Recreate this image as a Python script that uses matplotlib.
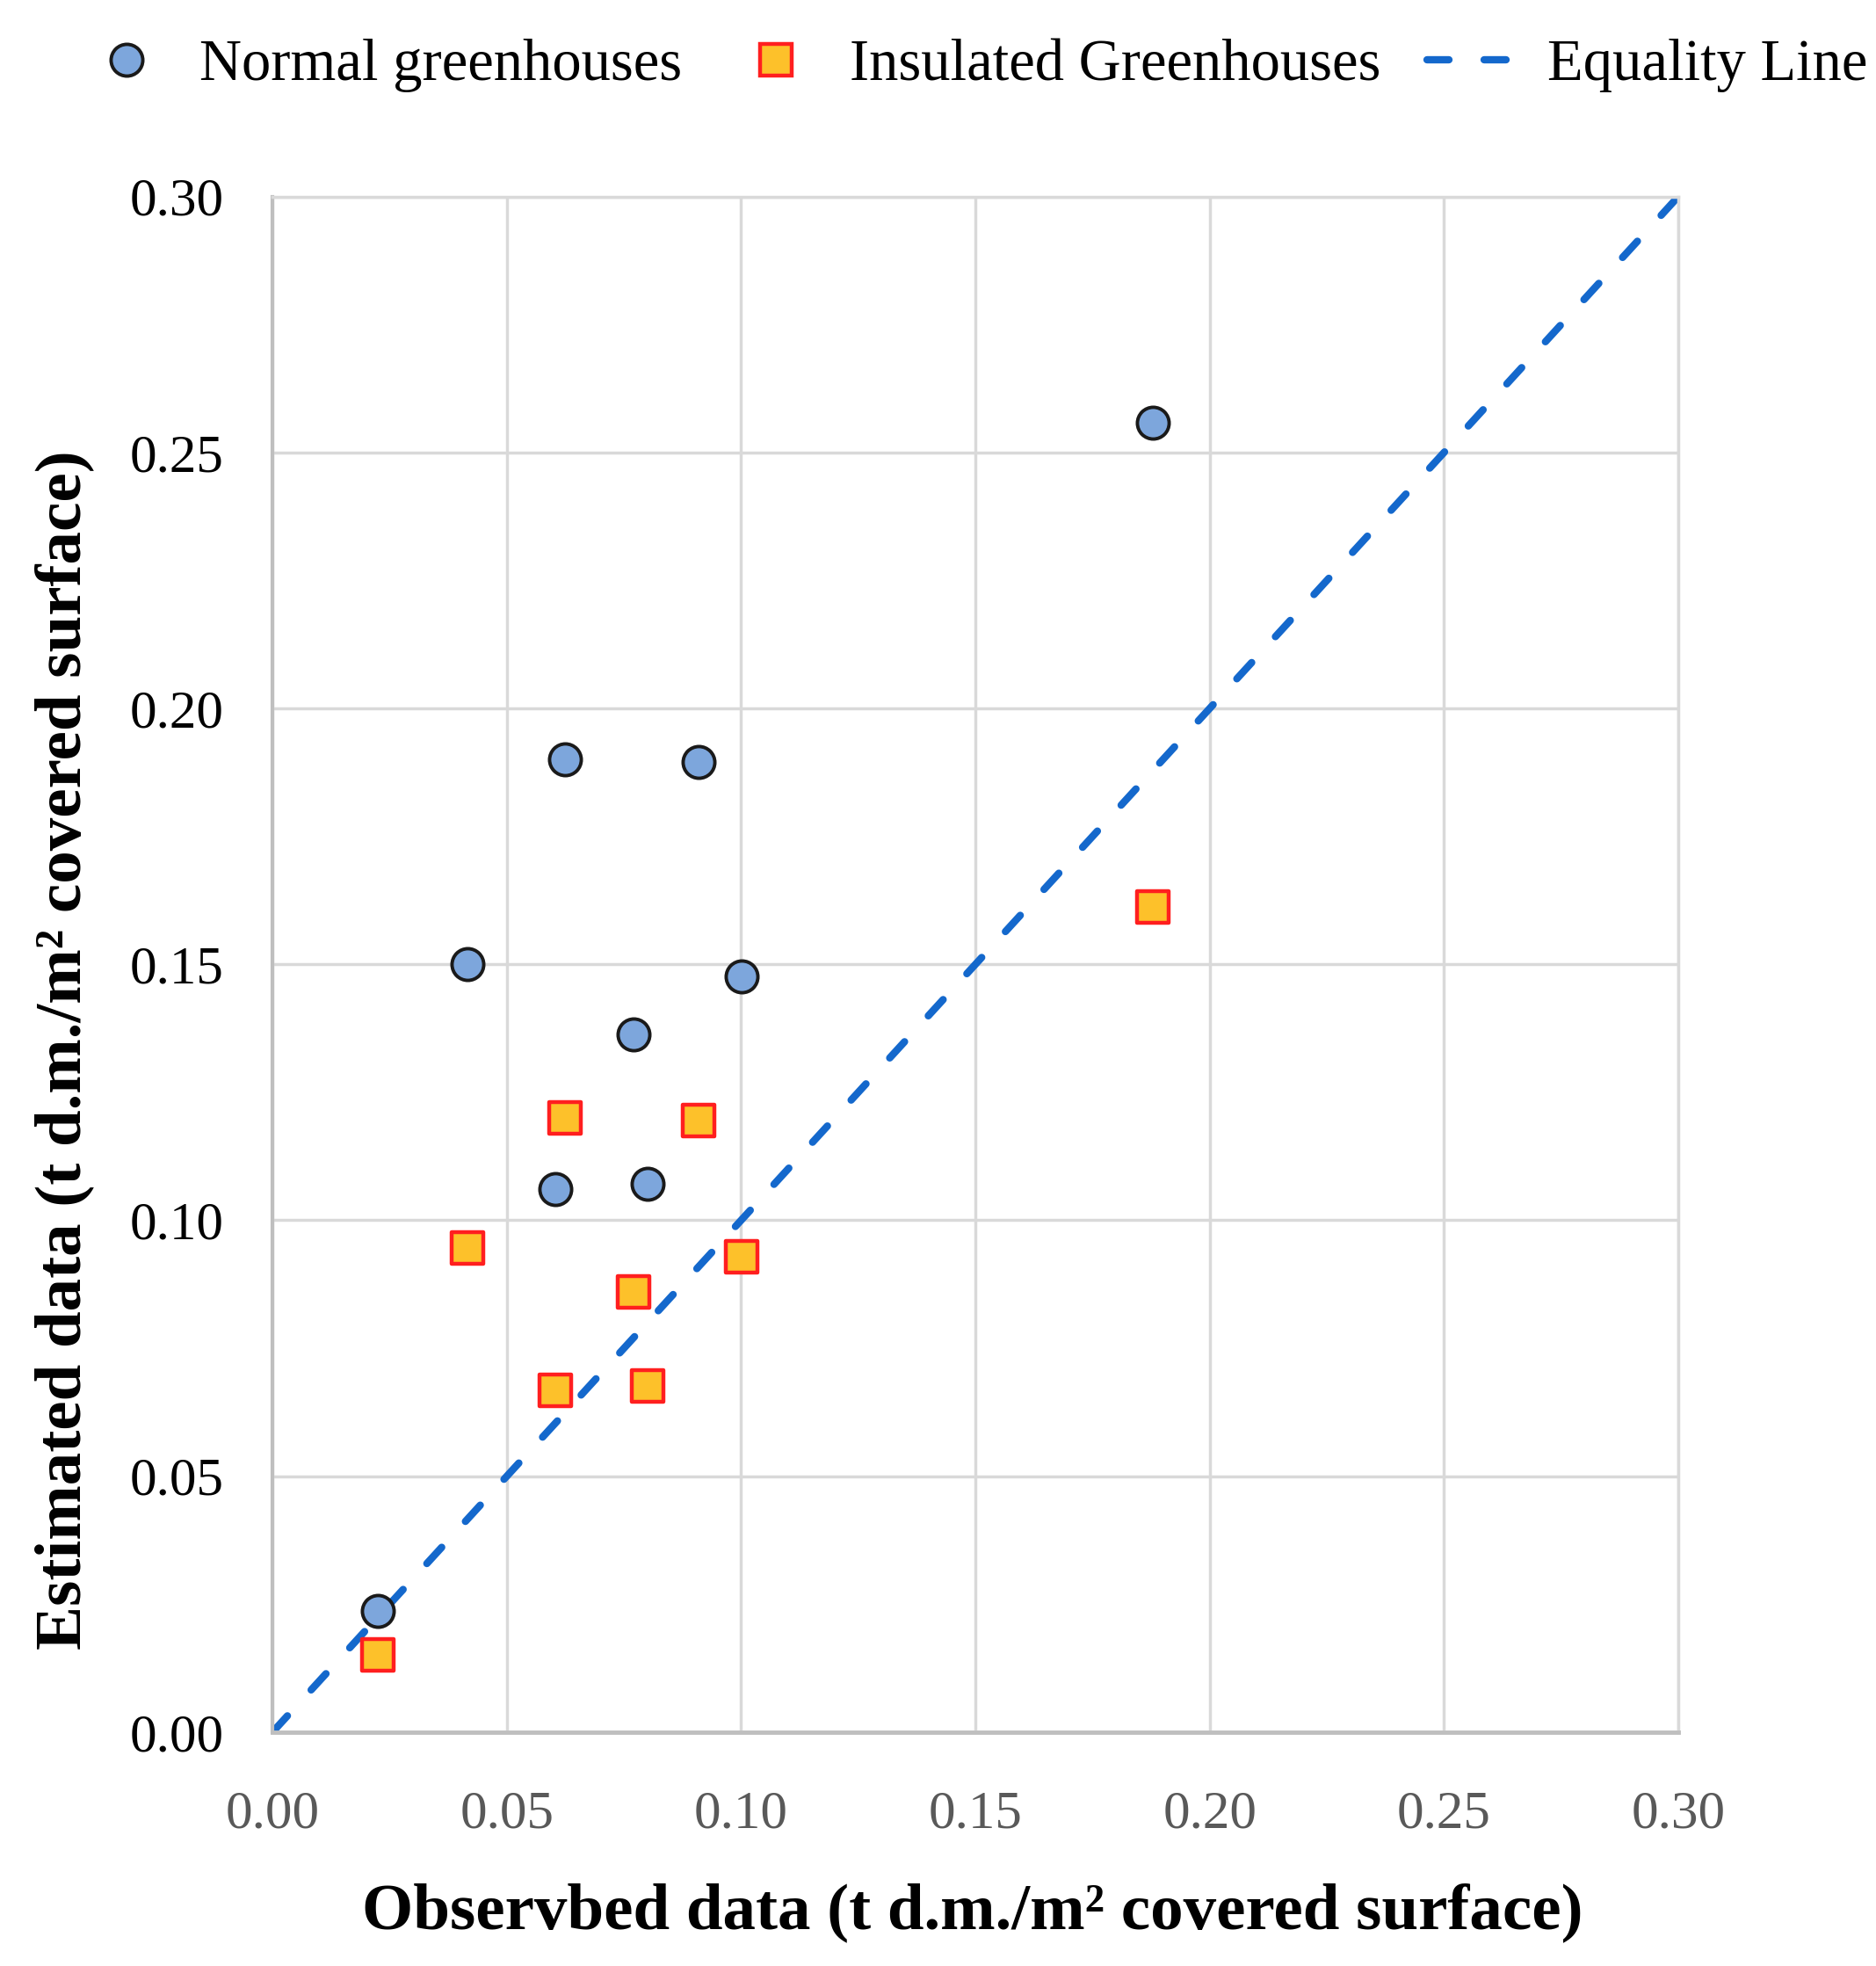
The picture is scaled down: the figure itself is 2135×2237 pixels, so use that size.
import matplotlib

matplotlib.use("Agg")
import matplotlib.pyplot as plt
from matplotlib.lines import Line2D

# observed vs estimated yield (t d.m./m2 covered surface)
observed = [0.0224, 0.0416, 0.0603, 0.0625, 0.0771, 0.0801, 0.0910, 0.1001, 0.1879]
est_normal = [0.0237, 0.1500, 0.1060, 0.1900, 0.1363, 0.1072, 0.1896, 0.1476, 0.2558]
est_insulated = [0.0151, 0.0945, 0.0667, 0.1200, 0.0860, 0.0677, 0.1195, 0.0928, 0.1612]
equality = [0.0, 0.30]
ticks = [0.00, 0.05, 0.10, 0.15, 0.20, 0.25, 0.30]

plt.rcParams["font.family"] = ["Liberation Serif", "DejaVu Serif"]

fig = plt.figure(figsize=(21.35, 22.37), dpi=100)
ax = fig.add_axes([0.1453, 0.119, 0.7493, 0.781])

dash = (0, (3.0, 4.8))
ax.plot(equality, equality, ls=dash, color="#1468CC", lw=6,
        zorder=2, dash_capstyle="round")
ax.scatter(observed, est_normal, s=26**2, marker="o", c="#7DA6DC",
           edgecolors="#1a1a1a", linewidths=2.8, zorder=3)
ax.scatter(observed, est_insulated, s=26**2, marker="s", c="#FDC12A",
           edgecolors="#FF1F1F", linewidths=3.2, zorder=3)

ax.set_xlim(0, 0.30)
ax.set_ylim(0, 0.30)
ax.set_xticks(ticks)
ax.set_yticks(ticks)
ax.set_xticklabels([f"{t:.2f}" for t in ticks])
ax.set_yticklabels([f"{t:.2f}" for t in ticks])
ax.tick_params(axis="x", length=0, pad=48, labelsize=44, labelcolor="#595959")
ax.tick_params(axis="y", length=0, pad=40, labelsize=44, labelcolor="black")
ax.grid(True, color="#D9D9D9", lw=2.5)
ax.set_axisbelow(True)
for side in ["top", "right"]:
    ax.spines[side].set_color("#D9D9D9")
    ax.spines[side].set_linewidth(2.5)
ax.spines["left"].set_color("#BFBFBF")
ax.spines["left"].set_linewidth(3)
ax.spines["bottom"].set_color("#BFBFBF")
ax.spines["bottom"].set_linewidth(3.5)

ax.set_xlabel("Observbed data (t d.m./m² covered surface)", fontsize=54,
              fontweight="bold")
ax.set_ylabel("Estimated data (t d.m./m² covered surface)", fontsize=54,
              fontweight="bold")
ax.xaxis.set_label_coords(0.498, -0.098)
ax.yaxis.set_label_coords(-0.127, 0.444)

handles = [
    Line2D([], [], ls="none", marker="o", ms=26, mfc="#7DA6DC", mec="#1a1a1a", mew=2.8),
    Line2D([], [], ls="none", marker="s", ms=26, mfc="#FDC12A", mec="#FF1F1F", mew=3.2),
    Line2D([], [], ls=dash, color="#1468CC", lw=6, dash_capstyle="round"),
]
labels = ["Normal greenhouses", "Insulated Greenhouses", "Equality Line"]
fig.legend(handles, labels, loc="upper center", bbox_to_anchor=(0.519, 1.007),
           ncol=3, frameon=False, fontsize=48, handlelength=1.6,
           handletextpad=0.45, columnspacing=0.8)

fig.savefig("out.png", dpi=100)
